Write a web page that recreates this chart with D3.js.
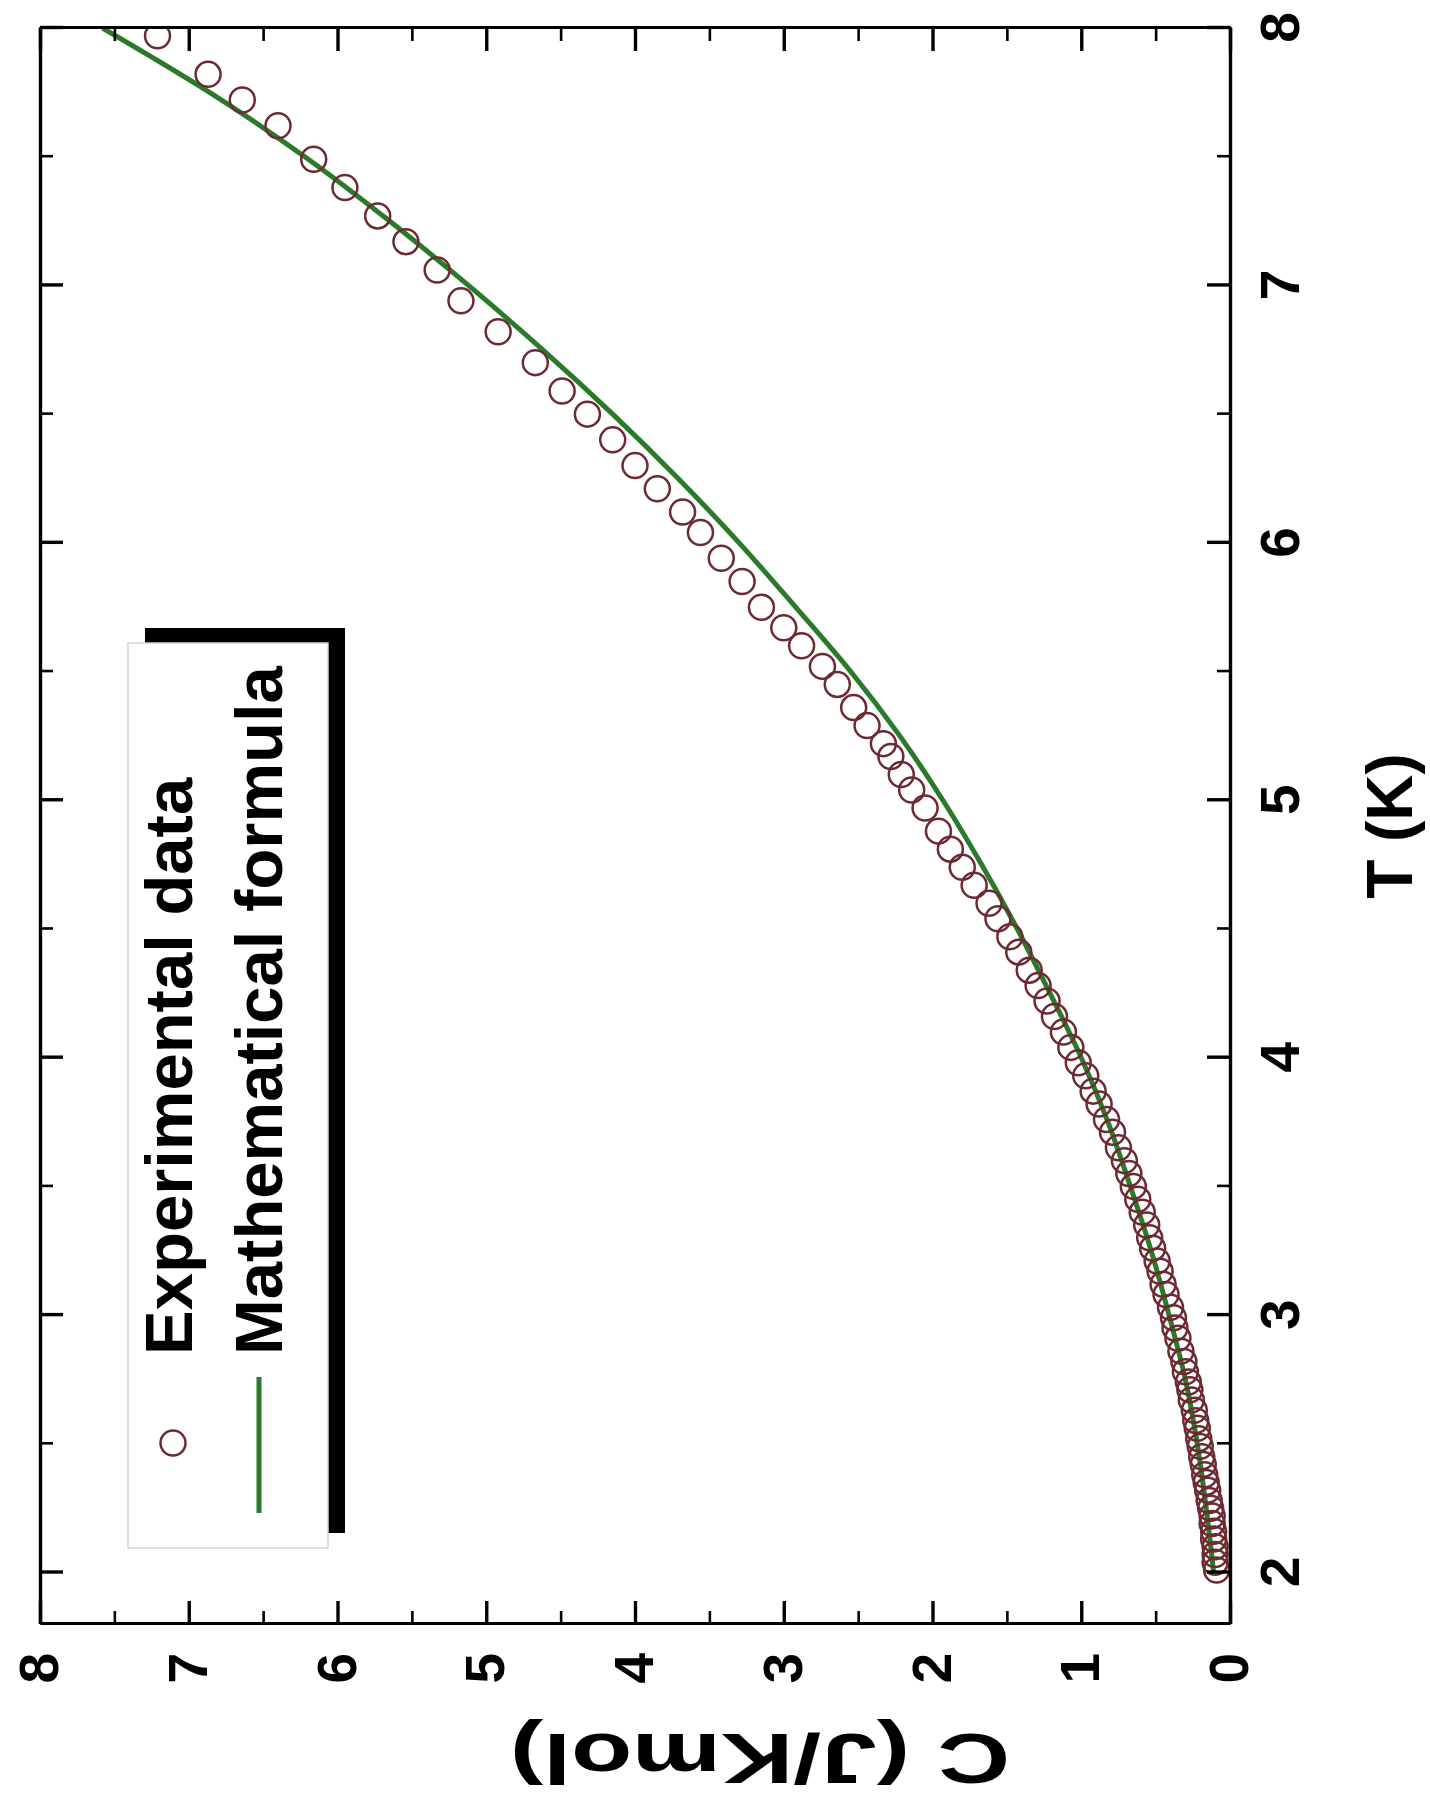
<!DOCTYPE html>
<html>
<head>
<meta charset="utf-8">
<script src="https://cdn.jsdelivr.net/npm/d3@7"></script>
<style>
  html, body { margin: 0; padding: 0; background: #fff; }
  svg { display: block; }
  text { font-family: "Liberation Sans", Arial, sans-serif; font-weight: bold; fill: #000; }
</style>
</head>
<body>
<svg id="chart" width="1430" height="1807"></svg>
<script>
// ---- data ----
const expT = [2.01,2.04,2.07,2.10,2.13,2.16,2.19,2.22,2.25,2.28,2.32,2.35,2.38,2.42,2.45,2.49,2.52,2.56,2.59,2.63,2.67,2.71,2.74,2.78,2.82,2.86,2.91,2.95,2.99,3.03,3.08,3.12,3.17,3.21,3.26,3.30,3.35,3.40,3.45,3.50,3.55,3.60,3.65,3.71,3.76,3.82,3.87,3.93,3.98,4.04,4.10,4.16,4.22,4.28,4.34,4.41,4.47,4.54,4.60,4.67,4.74,4.81,4.88,4.97,5.04,5.10,5.17,5.22,5.29,5.36,5.45,5.52,5.60,5.67,5.75,5.85,5.94,6.04,6.12,6.21,6.30,6.40,6.50,6.59,6.70,6.82,6.94,7.06,7.17,7.27,7.38,7.49,7.62,7.72,7.82,7.97];
const expC = [0.09,0.10,0.10,0.10,0.11,0.11,0.12,0.12,0.13,0.14,0.15,0.16,0.17,0.18,0.19,0.20,0.21,0.22,0.23,0.24,0.26,0.27,0.28,0.30,0.31,0.33,0.35,0.37,0.38,0.40,0.43,0.45,0.47,0.49,0.52,0.54,0.56,0.59,0.62,0.65,0.68,0.71,0.75,0.79,0.83,0.88,0.92,0.97,1.02,1.07,1.12,1.18,1.23,1.29,1.35,1.42,1.48,1.56,1.62,1.72,1.80,1.88,1.96,2.05,2.14,2.21,2.28,2.33,2.44,2.53,2.64,2.74,2.88,3.00,3.15,3.28,3.42,3.56,3.68,3.85,4.00,4.15,4.32,4.49,4.67,4.92,5.17,5.33,5.54,5.73,5.95,6.16,6.40,6.64,6.87,7.21];

const fitT = [2.0,2.25,2.5,2.75,3.0,3.25,3.5,3.75,4.0,4.25,4.5,4.75,5.0,5.25,5.5,5.75,6.0,6.25,6.5,6.75,7.0,7.25,7.5,7.75,8.0];
const fitC = [0.11,0.16,0.22,0.30,0.41,0.53,0.67,0.82,1.00,1.21,1.43,1.67,1.93,2.22,2.55,2.92,3.30,3.71,4.15,4.62,5.12,5.65,6.22,6.86,7.58];

const tMajor = [2,3,4,5,6,7,8];
const tMinor = [2.5,3.5,4.5,5.5,6.5,7.5];
const cMajor = [0,1,2,3,4,5,6,7,8];
const cMinor = [0.5,1.5,2.5,3.5,4.5,5.5,6.5,7.5];

const legendLabels = ["Experimental data", "Mathematical formula"];
const xTitle = "T (K)";
const yTitle = "C (J/Kmol)";

// ---- layout: the whole chart is drawn normally then turned 90° counter-clockwise ----
const W = 1596, H = 1190;      // plot width (T direction) and height (C direction)
const svg = d3.select("#chart");
const g = svg.append("g").attr("transform", "translate(40,1624) rotate(-90)");

const x = d3.scaleLinear().domain([1.8, 8]).range([0, W]);
const y = d3.scaleLinear().domain([0, 8]).range([H, 0]);

const symColor = "#6e2a33";
const lineColor = "#2a7a2a";

// clip
g.append("clipPath").attr("id", "clip").append("rect").attr("x", 0).attr("y", 0).attr("width", W).attr("height", H);

// fitted line
const line = d3.line().x((d, i) => x(fitT[i])).y((d, i) => y(fitC[i])).curve(d3.curveMonotoneX);
g.append("path")
  .attr("clip-path", "url(#clip)")
  .attr("d", line(fitT))
  .attr("fill", "none")
  .attr("stroke", lineColor)
  .attr("stroke-width", 5);

// experimental circles
g.append("g").attr("clip-path", "url(#clip)")
  .selectAll("circle").data(expT).join("circle")
  .attr("cx", (d) => x(d))
  .attr("cy", (d, i) => y(expC[i]))
  .attr("r", 12.5)
  .attr("fill", "none")
  .attr("stroke", symColor)
  .attr("stroke-width", 2.5);

// axes helper
function styleAxis(sel, major) {
  sel.select(".domain").attr("stroke", "#000").attr("stroke-width", 3.2);
  sel.selectAll(".tick line").attr("stroke", "#000").attr("stroke-width", major ? 3.4 : 2.6);
  sel.selectAll("text").style("font-size", "55px").style("font-weight", "bold")
     .style("font-family", '"Liberation Sans", Arial, sans-serif').attr("fill", "#000");
}
const fmt = d3.format("d");

// bottom (T) axis
g.append("g").attr("transform", `translate(0,${H})`)
  .call(d3.axisBottom(x).tickValues(tMinor).tickSizeInner(-13).tickSizeOuter(0).tickFormat(""))
  .call(s => styleAxis(s, false));
g.append("g").attr("transform", `translate(0,${H})`)
  .call(d3.axisBottom(x).tickValues(tMajor).tickSizeInner(-23).tickSizeOuter(0).tickPadding(30).tickFormat(fmt))
  .call(s => styleAxis(s, true));
// top mirror
g.append("g")
  .call(d3.axisTop(x).tickValues(tMinor).tickSizeInner(-13).tickSizeOuter(0).tickFormat(""))
  .call(s => styleAxis(s, false));
g.append("g")
  .call(d3.axisTop(x).tickValues(tMajor).tickSizeInner(-23).tickSizeOuter(0).tickFormat(""))
  .call(s => styleAxis(s, true));
// left (C) axis
g.append("g")
  .call(d3.axisLeft(y).tickValues(cMinor).tickSizeInner(-13).tickSizeOuter(0).tickFormat(""))
  .call(s => styleAxis(s, false));
g.append("g")
  .call(d3.axisLeft(y).tickValues(cMajor).tickSizeInner(-23).tickSizeOuter(0).tickPadding(29).tickFormat(fmt))
  .call(s => styleAxis(s, true));
// right mirror
g.append("g").attr("transform", `translate(${W},0)`)
  .call(d3.axisRight(y).tickValues(cMinor).tickSizeInner(-13).tickSizeOuter(0).tickFormat(""))
  .call(s => styleAxis(s, false));
g.append("g").attr("transform", `translate(${W},0)`)
  .call(d3.axisRight(y).tickValues(cMajor).tickSizeInner(-23).tickSizeOuter(0).tickFormat(""))
  .call(s => styleAxis(s, true));

// axis titles
g.append("text")
  .attr("x", W / 2).attr("y", H + 182)
  .attr("text-anchor", "middle")
  .style("font-size", "64px")
  .text(xTitle);
g.append("text")
  .attr("transform", `translate(-110,720) rotate(-90)`)
  .attr("text-anchor", "middle")
  .attr("textLength", 500)
  .attr("lengthAdjust", "spacingAndGlyphs")
  .style("font-size", "70px")
  .text(yTitle);

// legend
const lg = g.append("g");
lg.append("rect").attr("x", 91).attr("y", 105).attr("width", 905).attr("height", 200).attr("fill", "#000");
lg.append("rect").attr("x", 76).attr("y", 88).attr("width", 905).attr("height", 200)
  .attr("fill", "#fff").attr("stroke", "#d4d4d4").attr("stroke-width", 1.5);
lg.append("circle").attr("cx", 181).attr("cy", 133).attr("r", 12.5)
  .attr("fill", "none").attr("stroke", symColor).attr("stroke-width", 2.5);
lg.append("line").attr("x1", 111).attr("x2", 247).attr("y1", 219).attr("y2", 219)
  .attr("stroke", lineColor).attr("stroke-width", 5);
lg.selectAll("text.leg").data(legendLabels).join("text")
  .attr("class", "leg")
  .attr("x", 269)
  .attr("y", (d, i) => [152, 242][i])
  .style("font-size", "67px")
  .text(d => d);
</script>
</body>
</html>
